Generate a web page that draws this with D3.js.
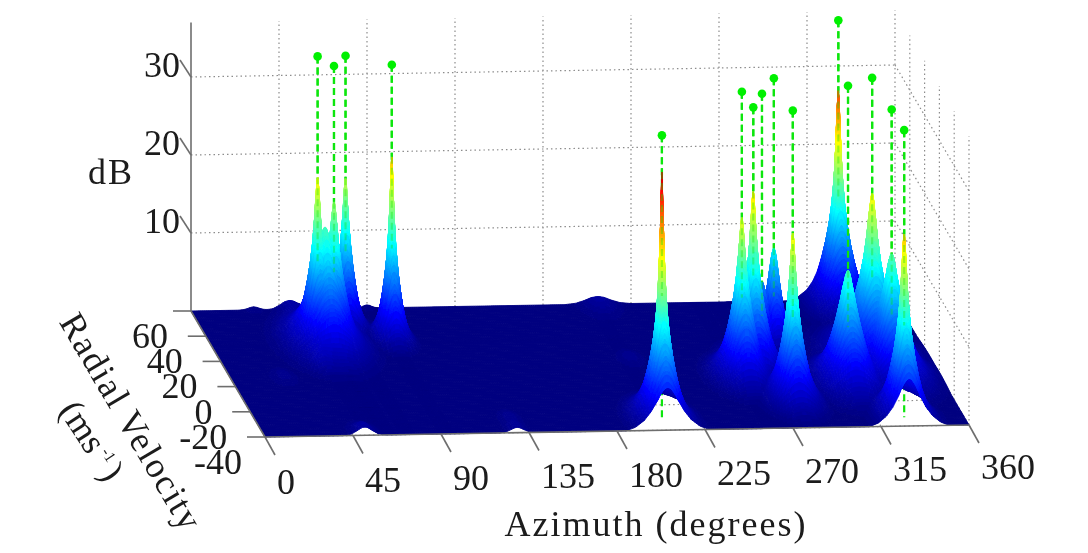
<!DOCTYPE html>
<html>
<head>
<meta charset="utf-8">
<script src="https://cdn.jsdelivr.net/npm/d3@7"></script>
<style>
  body { margin: 0; background: #fff; }
  text { font-family: "Liberation Serif", serif; fill: #1a1a1a; }
</style>
</head>
<body>
<svg id="chart" width="1088" height="553"></svg>
<script>
// ticks
let azimuthTicks = [0, 45, 90, 135, 180, 225, 270, 315, 360]
let velocityTicks = [60, 40, 20, 0, -20, -40]
let dbTicks = [10, 20, 30]

// detected peaks
let peakAzimuth = [54, 62.9, 73.2, 93, 206, 259, 268, 277.6, 285, 278, 329.5, 311, 330, 335.6, 329.5]
let peakVelocity = [31.6, 33, 44.6, 34.4, -32, 0, 8.4, 22, 25.5, -18.6, 56, -6, 11.6, 0, -33]
let markerDb = [37, 35.5, 34.9, 35.3, 36.5, 36.7, 33.3, 32.8, 34.2, 37.2, 36.5, 38.2, 36.3, 34.1, 36.8]
let surfaceDb = [21.5, 18.1, 19.2, 23.5, 31.8, 20.6, 22.5, 8.7, 12.4, 21.5, 27.5, 14.5, 21.5, 15.6, 23.5]
let peakSpread = [1, 1, 0.75, 0.7, 1.1, 1.1, 1.1, 0.6, 0.7, 1, 1.2, 1.3, 1.7, 1.4, 1.05]

// ridges on the surface that carry no marker, such as the saddle between two peaks
let ridgeAzimuth = [58]
let ridgeVelocity = [32]
let ridgeDb = [15]
let ridgeSpread = [1.5]

// shape of one spectral peak: dB against distance from its centre
let profileDist = [0, 0.15, 0.3, 0.6, 1, 1.6, 2.4, 3.5, 5, 7, 9.5, 12.5, 16, 20, 25, 32, 40]
let profileDb = [38, 35, 32, 29.5, 26.5, 23.5, 19.5, 16, 13, 10.4, 8, 5.8, 3.8, 2.4, 1.3, 0.45, 0]

// small bumps on the floor
let bumpAzimuth = [50, 32, 208, 90, 51, 129, 49, 27, 208, 129]
let bumpVelocity = [59.5, 60, 59, 60, -38, -38, 13, 6, 16, -29]
let bumpDb = [0.9, 0.4, 1, 0.4, 1.2, 0.8, 0.9, 0.6, 0.6, 0.6]
let bumpReach = [15, 10, 22, 8, 14, 12, 12, 14, 14, 12]
let bumpDist = [0, 0.3, 0.6, 1, 1.5]
let bumpGain = [1, 0.85, 0.5, 0.15, 0]

// jet colours
let jetDb = [0, 4.25, 12.75, 21.25, 29.75, 34]
let jetColors = ['#000080', '#0000ff', '#00ffff', '#ffff00', '#ff0000', '#800000']

let svg = d3.select('#chart')

let azX = d3.scaleLinear().domain([0, 360]).range([191, 895])
let azY = d3.scaleLinear().domain([0, 360]).range([311, 299])
let velX = d3.scaleLinear().domain([60, -40]).range([0, 74])
let velY = d3.scaleLinear().domain([60, -40]).range([0, 126])
let dbY = d3.scaleLinear().domain([0, 10]).range([0, -78])
let labelDrop = d3.scaleLinear().domain([0, 360]).range([57, 54])
let jet = d3.scaleLinear().domain(jetDb).range(jetColors).clamp(true)
let profile = d3.scaleLinear().domain(profileDist).range(profileDb).clamp(true)
let bumpShape = d3.scaleLinear().domain(bumpDist).range(bumpGain).clamp(true)

let pxX = (az, v, db) => azX(az) + velX(v)
let pxY = (az, v, db) => azY(az) + velY(v) + dbY(db)

let allAzimuth = peakAzimuth.concat(ridgeAzimuth)
let allVelocity = peakVelocity.concat(ridgeVelocity)
let allSpread = peakSpread.concat(ridgeSpread)
let allStart = surfaceDb.concat(ridgeDb).map((d) => profile.invert(d))

let height = (az, v) => {
  let top = 0
  allAzimuth.forEach((pa, i) => {
    let da = (az - pa) * 1.956 / allSpread[i]
    let dv = (v - allVelocity[i]) * 1.8 / allSpread[i]
    let d2 = da * da + dv * dv
    if (d2 < 1600) {
      let h = profile(Math.sqrt(d2 + allStart[i] * allStart[i]))
      if (h > top) top = h
    }
  })
  bumpAzimuth.forEach((ba, i) => {
    let da = (az - ba) * 1.956
    let dv = (v - bumpVelocity[i]) * 1.8
    let d = Math.sqrt(da * da + dv * dv) / bumpReach[i]
    if (d < 1.5) top += bumpDb[i] * bumpShape(d)
  })
  return top
}

let uniqueSort = (list, cmp) => {
  let sorted = list.slice().sort(cmp)
  return sorted.filter((d, i) => i === 0 || Math.abs(d - sorted[i - 1]) > 1e-6)
}

let azGrid = d3.range(0, 360.5, 1).concat(allAzimuth)
allAzimuth.forEach((pa) => {
  azGrid = azGrid.concat(d3.range(pa - 4, pa + 4, 0.25))
})
azGrid = uniqueSort(azGrid, d3.ascending)
let velGrid = uniqueSort(d3.range(-40, 60.5, 1.25).concat(allVelocity), d3.descending)

let zs = velGrid.map((v) => azGrid.map((a) => height(a, v)))

let soft = svg.append('defs')
soft.append('filter').attr('id', 'soft')
  .attr('filterUnits', 'userSpaceOnUse')
  .attr('x', 0).attr('y', 0).attr('width', 1088).attr('height', 553)
  .append('feGaussianBlur').attr('stdDeviation', 0.6)
soft.append('filter').attr('id', 'softText')
  .attr('filterUnits', 'userSpaceOnUse')
  .attr('x', 0).attr('y', 0).attr('width', 1088).attr('height', 553)
  .append('feGaussianBlur').attr('stdDeviation', 0.35)

let plot = svg.append('g').attr('filter', 'url(#soft)')
let labels = svg.append('g').attr('filter', 'url(#softText)')

// walls and floor grid
let grid = plot.append('g')
  .attr('fill', 'none')
  .attr('stroke', '#8c8c8c')
  .attr('stroke-width', 1.2)
  .attr('stroke-dasharray', '1.5 3')

let gridLine = (p, q) => {
  grid.append('line')
    .attr('x1', pxX(...p)).attr('y1', pxY(...p))
    .attr('x2', pxX(...q)).attr('y2', pxY(...q))
}
let wallTop = 37
azimuthTicks.slice(1).forEach((a) => {
  gridLine([a, 60, 0], [a, 60, wallTop])
  gridLine([a, 60, 0], [a, -40, 0])
})
velocityTicks.slice(1).forEach((v) => {
  gridLine([360, v, 0], [360, v, wallTop])
  gridLine([0, v, 0], [360, v, 0])
})
dbTicks.forEach((z) => {
  gridLine([0, 60, z], [360, 60, z])
  gridLine([360, 60, z], [360, -40, z])
})

// stems behind the surface
let stemColor = '#0be60b'
let stems = plot.append('g')
  .attr('stroke', stemColor)
  .attr('stroke-width', 2.2)
  .attr('stroke-dasharray', '7 4')
peakAzimuth.forEach((a, i) => {
  let v = peakVelocity[i]
  stems.append('line')
    .attr('x1', pxX(a, v, markerDb[i])).attr('y1', pxY(a, v, markerDb[i]))
    .attr('x2', pxX(a, v, 0)).attr('y2', pxY(a, v, 0))
})

// surface, painted row by row from the back
let surface = plot.append('g').attr('stroke-width', 0.9).attr('stroke-linejoin', 'round')
let addQuad = (paths, a0, a1, v0, v1, z00, z01, z10, z11) => {
  let mean = (z00 + z01 + z10 + z11) / 4
  let key = Math.round(mean * 4)
  if (!paths.has(key)) paths.set(key, d3.path())
  let p = paths.get(key)
  p.moveTo(pxX(a0, v0, z00), pxY(a0, v0, z00))
  p.lineTo(pxX(a1, v0, z01), pxY(a1, v0, z01))
  p.lineTo(pxX(a1, v1, z11), pxY(a1, v1, z11))
  p.lineTo(pxX(a0, v1, z10), pxY(a0, v1, z10))
  p.closePath()
}

for (let j = 0; j < velGrid.length - 1; j++) {
  let paths = new Map()
  for (let i = 0; i < azGrid.length - 1; i++) {
    let z = [zs[j][i], zs[j][i + 1], zs[j + 1][i], zs[j + 1][i + 1]]
    let range = d3.max(z) - d3.min(z)
    let n = Math.min(10, Math.ceil(range / 0.8)) || 1
    let mix = (u, w) => {
      return (z[0] * (1 - u) + z[1] * u) * (1 - w) + (z[2] * (1 - u) + z[3] * u) * w
    }
    let aAt = (u) => azGrid[i] + (azGrid[i + 1] - azGrid[i]) * u
    let vAt = (w) => velGrid[j] + (velGrid[j + 1] - velGrid[j]) * w
    for (let s = 0; s < n; s++) {
      for (let t = 0; t < n; t++) {
        let u0 = s / n, u1 = (s + 1) / n, w0 = t / n, w1 = (t + 1) / n
        addQuad(paths, aAt(u0), aAt(u1), vAt(w0), vAt(w1),
          mix(u0, w0), mix(u1, w0), mix(u0, w1), mix(u1, w1))
      }
    }
  }
  // darkest first so the raised parts stay on top within a row
  Array.from(paths.keys()).sort(d3.ascending).forEach((key) => {
    let c = jet(key / 4)
    surface.append('path').attr('d', paths.get(key).toString()).attr('fill', c).attr('stroke', c)
  })
}

// stems above the peaks, then the markers
let stemsTop = plot.append('g')
  .attr('stroke', stemColor)
  .attr('stroke-width', 2.2)
  .attr('stroke-dasharray', '7 4')
peakAzimuth.forEach((a, i) => {
  let v = peakVelocity[i]
  stemsTop.append('line')
    .attr('x1', pxX(a, v, markerDb[i])).attr('y1', pxY(a, v, markerDb[i]))
    .attr('x2', pxX(a, v, surfaceDb[i])).attr('y2', pxY(a, v, surfaceDb[i]))
  stemsTop.append('line')
    .attr('opacity', 0.35)
    .attr('x1', pxX(a, v, surfaceDb[i])).attr('y1', pxY(a, v, surfaceDb[i]))
    .attr('x2', pxX(a, v, surfaceDb[i] * 0.5)).attr('y2', pxY(a, v, surfaceDb[i] * 0.5))
})
plot.append('g')
  .attr('fill', '#00f000')
  .selectAll('circle')
  .data(peakAzimuth)
  .enter()
  .append('circle')
  .attr('cx', (d, i) => pxX(d, peakVelocity[i], markerDb[i]))
  .attr('cy', (d, i) => pxY(d, peakVelocity[i], markerDb[i]))
  .attr('r', 4.3)

// axes
let axes = plot.append('g').attr('stroke', '#6e6e6e').attr('stroke-width', 1.6)
let axisLine = (x1, y1, x2, y2) => {
  axes.append('line').attr('x1', x1).attr('y1', y1).attr('x2', x2).attr('y2', y2)
}
axisLine(pxX(0, 60, 0), pxY(0, 60, 0), pxX(0, 60, wallTop), pxY(0, 60, wallTop))
axisLine(pxX(0, 60, 0), pxY(0, 60, 0), pxX(0, -40, 0), pxY(0, -40, 0))
axisLine(pxX(0, -40, 0), pxY(0, -40, 0), pxX(360, -40, 0), pxY(360, -40, 0))

let tickFont = 36
azimuthTicks.forEach((a) => {
  let x = pxX(a, -40, 0), y = pxY(a, -40, 0)
  axisLine(x, y, x + 10, y + 18)
  labels.append('text')
    .attr('x', x + 12).attr('y', y + labelDrop(a))
    .attr('font-size', tickFont)
    .text(a)
})
velocityTicks.forEach((v) => {
  let x = pxX(0, v, 0), y = pxY(0, v, 0)
  axisLine(x, y, x - 18, y)
  labels.append('text')
    .attr('x', x - 23).attr('y', y + 37)
    .attr('text-anchor', 'end')
    .attr('font-size', tickFont)
    .text(v)
})
dbTicks.forEach((z) => {
  let x = pxX(0, 60, z), y = pxY(0, 60, z)
  axisLine(x, y, x - 11, y - 17)
  labels.append('text')
    .attr('x', x - 11).attr('y', y)
    .attr('text-anchor', 'end')
    .attr('font-size', tickFont)
    .text(z)
})

labels.append('text')
  .attr('x', 88).attr('y', 184)
  .attr('font-size', 36)
  .attr('letter-spacing', 2)
  .text('dB')
labels.append('text')
  .attr('x', 656).attr('y', 536)
  .attr('text-anchor', 'middle')
  .attr('font-size', 36)
  .attr('letter-spacing', 2)
  .text('Azimuth (degrees)')
labels.append('text')
  .attr('transform', 'translate(121,428) rotate(59.5)')
  .attr('text-anchor', 'middle')
  .attr('font-size', 36)
  .attr('letter-spacing', 1.6)
  .text('Radial Velocity')
let unit = labels.append('text')
  .attr('transform', 'translate(82,447) rotate(57)')
  .attr('text-anchor', 'middle')
  .attr('font-size', 36)
unit.append('tspan').text('(ms')
unit.append('tspan').attr('font-size', 16).attr('dx', 4).attr('dy', -13).text('-1')
unit.append('tspan').attr('dx', 4).attr('dy', 13).text(')')
</script>
</body>
</html>
